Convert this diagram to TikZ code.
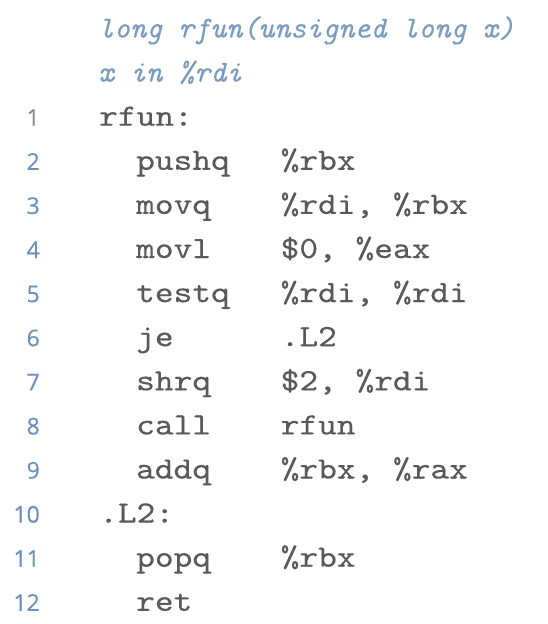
\documentclass[tikz,border=0pt]{standalone}
\usepackage{fontspec}
\newfontfamily\numfont{Open Sans}[FakeBold=0.4]
\newfontface\codefont{lmmono10-regular.otf}[FakeStretch=1.15, FakeBold=0.3]
\newfontface\hdrfont{lmmono10-italic.otf}[FakeBold=0.2]
\definecolor{codegray}{HTML}{595959}
\definecolor{numblue}{HTML}{6C91BA}
\definecolor{hdrblue}{HTML}{7A9CC0}
\definecolor{onegray}{HTML}{8A8A8A}
\tikzset{
  hdr/.style={anchor=base west, inner sep=0pt, text=hdrblue, font=\fontsize{30.5}{30.5}\selectfont\hdrfont},
  code/.style={anchor=base west, inner sep=0pt, text=codegray, font=\fontsize{31}{31}\selectfont\codefont},
  lnum/.style={anchor=base east, inner sep=0pt, text=numblue, font=\fontsize{23}{23}\selectfont\numfont},
}
\begin{document}
\begin{tikzpicture}[x=1pt,y=-1pt]
\useasboundingbox (0,0) rectangle (548,624);
\fill[white] (0,0) rectangle (548,624);
\node[hdr] (h1) at (98,37.5) {long rfun(unsigned long x)};
\node[hdr] (h2) at (98,81.6) {x in \%rdi};
% rows
\node[lnum, text=onegray] (n1) at (40,125.7) {1};
\node[code] (l1) at (99,125.7) {rfun:};
\node[lnum] (n2) at (40,169.8) {2};
\node[code] (i2) at (136,169.8) {pushq};
\node[code] (o2) at (280.5,169.8) {\%rbx};
\node[lnum] (n3) at (40,213.9) {3};
\node[code] (i3) at (136,213.9) {movq};
\node[code] (o3) at (280.5,213.9) {\%rdi, \%rbx};
\node[lnum] (n4) at (40,258) {4};
\node[code] (i4) at (136,258) {movl};
\node[code] (o4) at (280.5,258) {\$0, \%eax};
\node[lnum] (n5) at (40,302.1) {5};
\node[code] (i5) at (136,302.1) {testq};
\node[code] (o5) at (280.5,302.1) {\%rdi, \%rdi};
\node[lnum] (n6) at (40,346.2) {6};
\node[code] (i6) at (136,346.2) {je};
\node[code] (o6) at (280.5,346.2) {.L2};
\node[lnum] (n7) at (40,390.3) {7};
\node[code] (i7) at (136,390.3) {shrq};
\node[code] (o7) at (280.5,390.3) {\$2, \%rdi};
\node[lnum] (n8) at (40,434.4) {8};
\node[code] (i8) at (136,434.4) {call};
\node[code] (o8) at (280.5,434.4) {rfun};
\node[lnum] (n9) at (40,478.5) {9};
\node[code] (i9) at (136,478.5) {addq};
\node[code] (o9) at (280.5,478.5) {\%rbx, \%rax};
\node[lnum] (n10) at (40,522.6) {10};
\node[code] (l10) at (99,522.6) {.L2:};
\node[lnum] (n11) at (40,566.7) {11};
\node[code] (i11) at (136,566.7) {popq};
\node[code] (o11) at (280.5,566.7) {\%rbx};
\node[lnum] (n12) at (40,610.8) {12};
\node[code] (i12) at (136,610.8) {ret};
\end{tikzpicture}
\end{document}
